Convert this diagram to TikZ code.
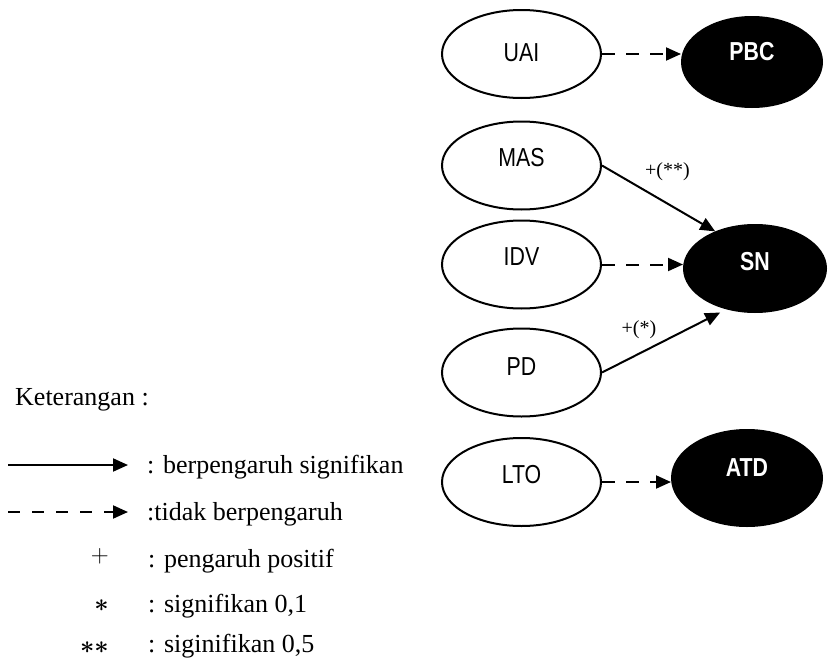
\documentclass[tikz,border=0pt]{standalone}
\usepackage{fontspec}
\setmainfont{Liberation Serif}
\newfontfamily\narrowsans[FakeStretch=0.82]{Liberation Sans}
\usetikzlibrary{shapes.geometric,arrows.meta,calc}

\tikzset{
  x=1pt, y=-1pt,
  oval/.style={ellipse, draw=black, line width=2pt, fill=white, inner sep=0pt,
               minimum width=159pt, minimum height=88pt},
  solidoval/.style={ellipse, draw=black, line width=2pt, fill=black, inner sep=0pt},
  ovaltext/.style={font=\narrowsans\fontsize{26}{31}\selectfont, text=black, inner sep=0pt},
  solidtext/.style={font=\narrowsans\bfseries\fontsize{26}{31}\selectfont, text=white, inner sep=0pt},
  effect/.style={line width=2pt, -{Triangle[length=15pt,width=13pt]}},
  noeffect/.style={effect, dash pattern=on 13pt off 11pt},
  pathlabel/.style={font=\fontsize{20}{24}\selectfont, inner sep=0pt},
  legendtext/.style={font=\fontsize{26}{31}\selectfont, inner sep=0pt, anchor=base west},
  legendsym/.style={font=\fontsize{28}{33}\selectfont, inner sep=0pt, anchor=east},
  legendast/.style={font=\boldmath\fontsize{34}{40}\selectfont, inner sep=0pt, anchor=east},
}

\begin{document}
\begin{tikzpicture}
\useasboundingbox (0,0) rectangle (831,664);

% cultural dimensions
\node[oval, label={[ovaltext, yshift=1pt]center:UAI}] (uai) at (521.5,54) {};
\node[oval, label={[ovaltext, yshift=7.5pt]center:MAS}] (mas) at (521.5,165.5) {};
\node[oval, label={[ovaltext, yshift=7.5pt]center:IDV}] (idv) at (521.5,264.5) {};
\node[oval, label={[ovaltext, yshift=5.5pt]center:PD}] (pd) at (521.5,372.5) {};
\node[oval, label={[ovaltext, yshift=7pt]center:LTO}] (lto) at (521.5,482) {};

% outcome constructs
\node[solidoval, minimum width=140pt, minimum height=90pt,
      label={[solidtext, yshift=10pt]center:PBC}] (pbc) at (752,62) {};
\node[solidoval, minimum width=142pt, minimum height=87pt,
      label={[solidtext, yshift=6.5pt]center:SN}] (sn) at (755,268.5) {};
\node[solidoval, minimum width=150pt, minimum height=96pt,
      label={[solidtext, yshift=10pt]center:ATD}] (atd) at (747,478) {};

% paths
\draw[noeffect] (uai.east) -- (uai.east -| pbc.west);
\draw[effect] (mas.east) -- (sn.137);
\draw[noeffect] (idv.east) -- (idv.east -| sn.west);
\draw[effect, shorten >=7pt] (pd.east) -- (sn.235);
\draw[noeffect] (lto.east) -- (lto.east -| atd.west);

\node[pathlabel] (lmas) at (667.5,172) {+(**)};
\node[pathlabel] (lpd) at (639,330) {+(*)};

% legend
\node[legendtext] (ket) at (15,405) {Keterangan :};

\coordinate (s1) at (8,465);
\coordinate (s2) at (128,465);
\draw[effect] (s1) -- (s2);
\node[legendtext] (t1) at (147,473) {: berpengaruh signifikan};

\coordinate (d1) at (8,512);
\coordinate (d2) at (128,512);
\draw[effect, dash pattern=on 12pt off 12pt] (d1) -- (d2);
\node[legendtext] (t2) at (147,520) {:tidak berpengaruh};

\node[legendsym] (plus) at (109,556) {$+$};
\node[legendtext] (t3) at (148,567) {: pengaruh positif};

\node[legendast] (ast) at (109,606) {$\ast$};
\node[legendtext] (t4) at (148,612) {: signifikan 0,1};

\node[legendast] (ast2) at (109,648) {$\ast\ast$};
\node[legendtext] (t5) at (148,652) {: siginifikan 0,5};
\end{tikzpicture}
\end{document}
